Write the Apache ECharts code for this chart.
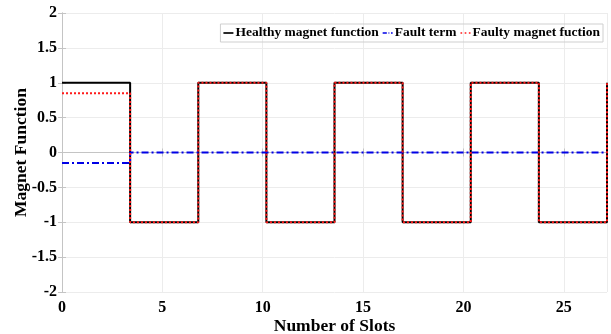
<!DOCTYPE html>
<html>
<head>
<meta charset="utf-8">
<script src="https://cdn.jsdelivr.net/npm/echarts@6/dist/echarts.min.js"></script>
<style>
  html, body { margin: 0; padding: 0; background: #fff; }
  #chart { width: 611px; height: 334px; }
</style>
</head>
<body>
<div id="chart"></div>
<script>
// step edges (slot position) and levels between them
var edges = [0, 3.394, 6.788, 10.181, 13.575, 16.969, 20.363, 23.756, 27.15];
var healthyLevels = [1, -1, 1, -1, 1, -1, 1, -1];
var faultLevels = [-0.15, 0, 0, 0, 0, 0, 0, 0];
var faultyLevels = [0.85, -1, 1, -1, 1, -1, 1, -1];
var endLevel = 1; // rise at right edge
var seriesNames = ["Healthy magnet function", "Fault term", "Faulty magnet fuction"];

function stepData(levels, last) {
  var pts = [];
  for (var i = 0; i < levels.length; i++) {
    pts.push([edges[i], levels[i]]);
    pts.push([edges[i + 1], levels[i]]);
  }
  if (last !== undefined) pts.push([edges[edges.length - 1], last]);
  return pts;
}

var font = "'Liberation Serif', 'Times New Roman', serif";
var chart = echarts.init(document.getElementById("chart"));

var axisLine = { show: true, lineStyle: { color: "#c4c4c4", width: 1 } };
var axisTick = { show: true, inside: true, length: 4, lineStyle: { color: "#c4c4c4" } };

// legend icons drawn as little line pieces
var iconSolid = "path://M0,0 L12,0 L12,2 L0,2 Z";
var iconDashDot = "path://M0,0 L5,0 L5,2 L0,2 Z M7,0 L8,0 L8,2 L7,2 Z M10,0 L12,0 L12,2 L10,2 Z";
var iconDot = "path://M0,0 L2,0 L2,2 L0,2 Z M5,0 L7,0 L7,2 L5,2 Z M10,0 L12,0 L12,2 L10,2 Z";

chart.setOption({
  animation: false,
  grid: { left: 62, right: 4, top: 13, bottom: 42, containLabel: false, outerBoundsMode: "none" },
  legend: {
    right: 8, top: 24,
    data: [
      { name: seriesNames[0], icon: iconSolid },
      { name: seriesNames[1], icon: iconDashDot },
      { name: seriesNames[2], icon: iconDot }
    ],
    itemWidth: 10, itemHeight: 2.5, itemGap: 4,
    padding: [2, 3, 2, 3],
    borderColor: "#cfcfcf", borderWidth: 1,
    textStyle: { fontFamily: font, fontWeight: "bold", fontSize: 13.5, color: "#000", padding: [0, 0, 0, -3] }
  },
  xAxis: [{
    type: "value", min: 0, max: 27.15, interval: 5,
    name: "Number of Slots", nameLocation: "middle", nameGap: 25, nameMoveOverlap: false,
    nameTextStyle: { fontFamily: font, fontWeight: "bold", fontSize: 17.5, color: "#000" },
    axisLabel: { fontFamily: font, fontWeight: "bold", fontSize: 16, color: "#000", margin: 8, showMaxLabel: false },
    splitLine: { show: true, lineStyle: { color: "#ececec" } },
    axisLine: axisLine, axisTick: axisTick
  }, {
    type: "value", min: 0, max: 27.15, interval: 5, position: "top",
    axisLabel: { show: false }, splitLine: { show: false },
    axisLine: axisLine, axisTick: axisTick
  }],
  yAxis: [{
    type: "value", min: -2, max: 2, interval: 0.5,
    name: "Magnet Function", nameLocation: "middle", nameGap: 32, nameMoveOverlap: false,
    nameTextStyle: { fontFamily: font, fontWeight: "bold", fontSize: 17.5, color: "#000" },
    axisLabel: { fontFamily: font, fontWeight: "bold", fontSize: 16, color: "#000", margin: 5 },
    splitLine: { show: true, lineStyle: { color: "#ececec" } },
    axisLine: axisLine, axisTick: axisTick
  }, {
    type: "value", min: -2, max: 2, interval: 0.5, position: "right",
    axisLabel: { show: false }, splitLine: { show: false },
    axisLine: axisLine, axisTick: axisTick
  }],
  series: [{
    name: seriesNames[0], type: "line", symbol: "none",
    data: stepData(healthyLevels, endLevel),
    lineStyle: { color: "#000", width: 2 }, itemStyle: { color: "#000" }
  }, {
    name: seriesNames[1], type: "line", symbol: "none",
    data: stepData(faultLevels),
    lineStyle: { color: "#0000e6", width: 2, type: [7, 3, 2, 3] }, itemStyle: { color: "#0000e6" }
  }, {
    name: seriesNames[2], type: "line", symbol: "none",
    data: stepData(faultyLevels, endLevel),
    lineStyle: { color: "#ff1a1a", width: 2, type: [2, 2] }, itemStyle: { color: "#ff1a1a" }
  }]
});
</script>
</body>
</html>
